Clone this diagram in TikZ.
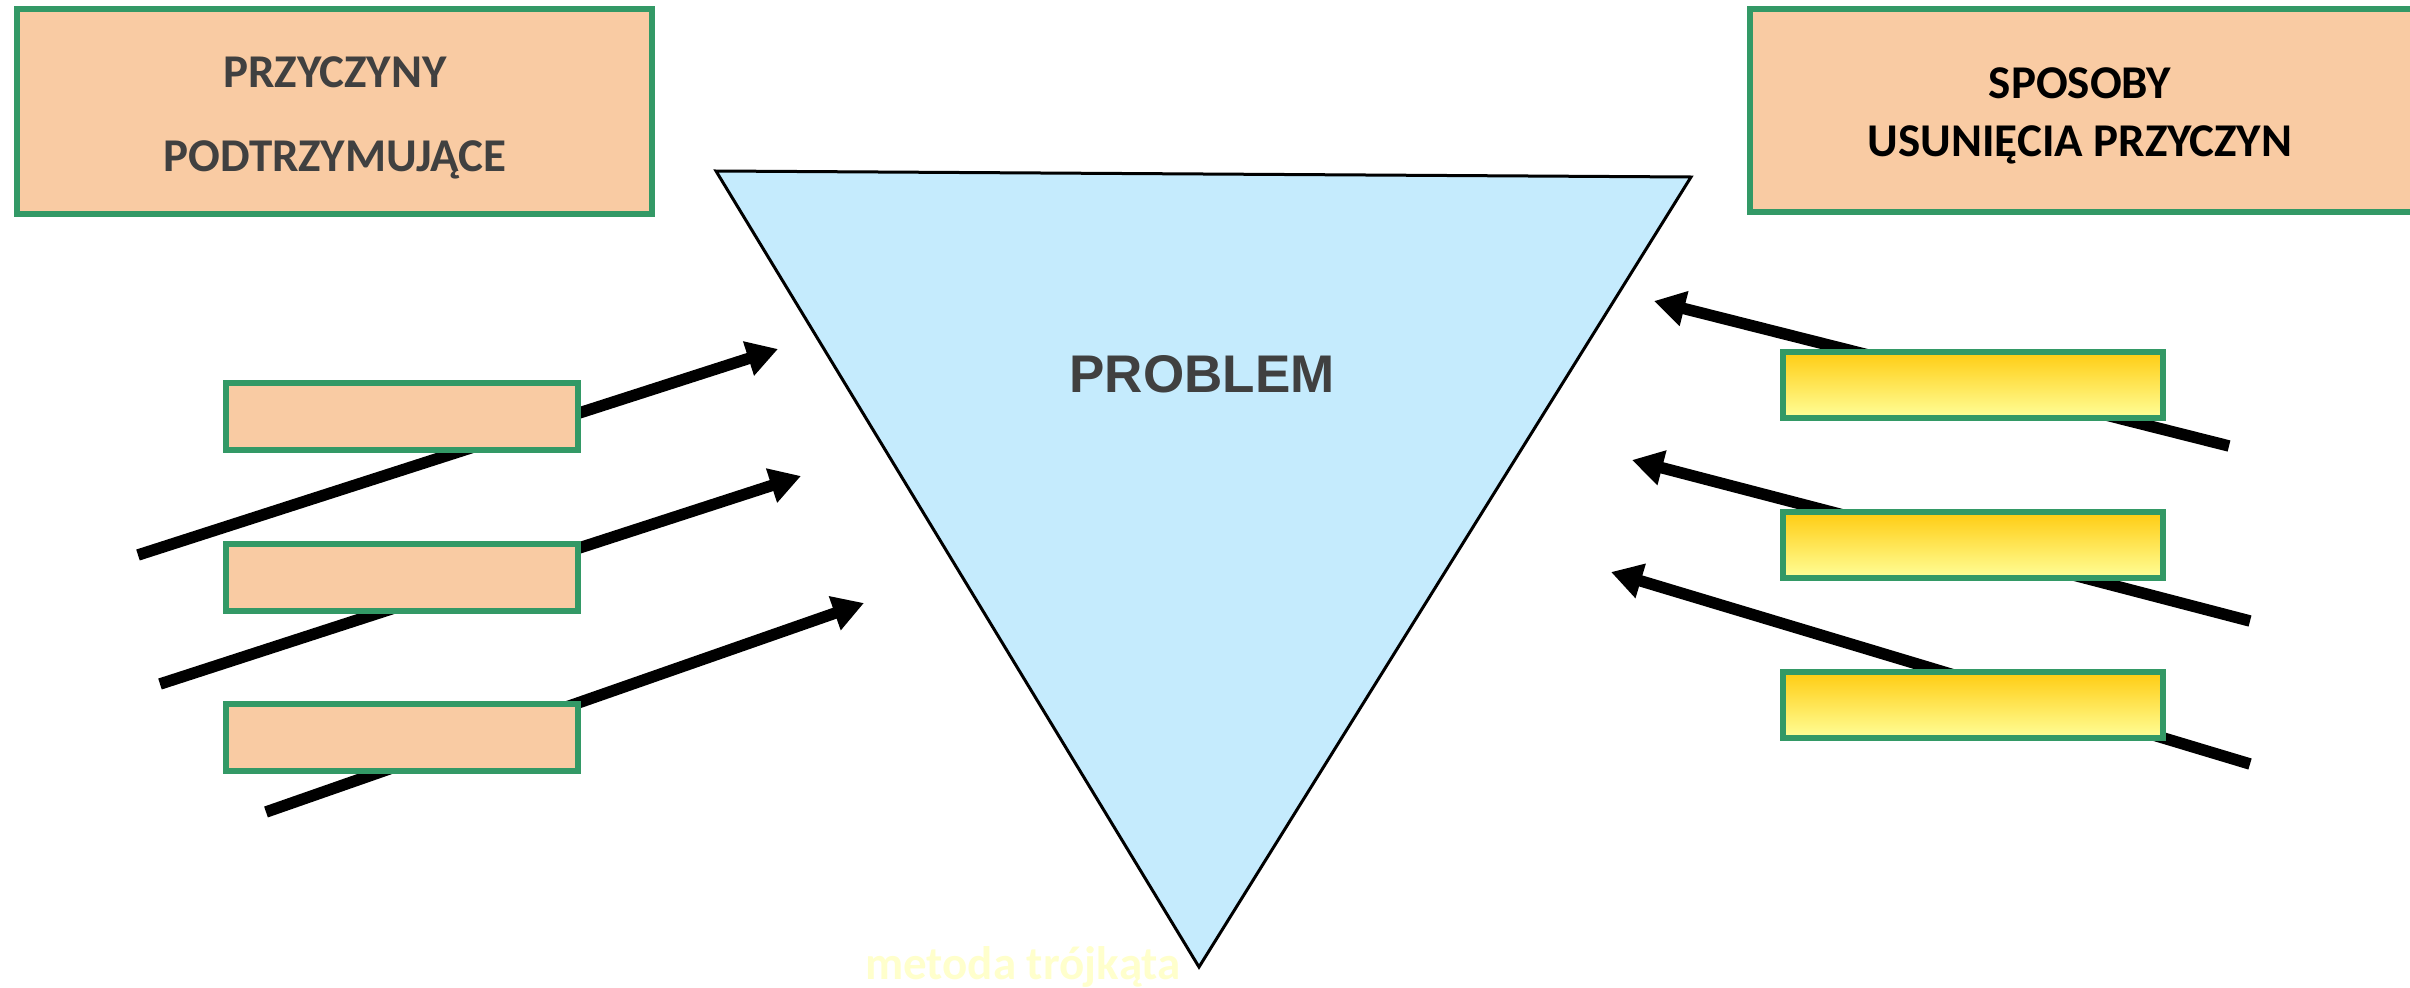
\documentclass[tikz,border=0pt]{standalone}
\usepackage{fontspec}
\setmainfont{Carlito}
\newfontfamily\arialfont{Liberation Sans}
\usetikzlibrary{arrows.meta}
\definecolor{boxgreen}{RGB}{51,153,102}
\definecolor{peach}{RGB}{249,203,163}
\definecolor{skyfill}{RGB}{197,235,253}
\definecolor{darkgray}{RGB}{64,64,64}
\definecolor{goldtop}{RGB}{255,204,17}
\definecolor{goldbot}{RGB}{255,255,153}
\definecolor{paleyellow}{RGB}{255,255,204}
\tikzset{
  peachbox/.style={draw=boxgreen, line width=6pt, fill=peach, rectangle, inner sep=0pt},
  goldbox/.style={draw=boxgreen, line width=6pt, top color=goldtop, bottom color=goldbot, rectangle, inner sep=0pt},
  bigarrow/.style={line width=11.5pt, -{Triangle[length=31pt,width=34pt]}},
  caption/.style={font=\fontsize{47}{56}\selectfont\bfseries, anchor=base, inner sep=0pt},
}
\begin{document}
\begin{tikzpicture}[x=1pt,y=-1pt]
\useasboundingbox (0,0) rectangle (2410,988);
% header boxes
\node[peachbox, minimum width=635pt, minimum height=205pt] (hl) at (334.5,111.5) {};
\node[caption, text=darkgray] (hl1) at (335,87) {PRZYCZYNY};
\node[caption, text=darkgray] (hl2) at (335,171) {PODTRZYMUJĄCE};
\node[peachbox, minimum width=670pt, minimum height=203pt] (hr) at (2085,110.5) {};
\node[caption, text=black] (hr1) at (2080,98) {SPOSOBY};
\node[caption, text=black] (hr2) at (2080,156) {USUNIĘCIA PRZYCZYN};
% triangle
\coordinate (tA) at (716,171);
\coordinate (tB) at (1691,177);
\coordinate (tC) at (1199,967);
\draw[line width=3pt, fill=skyfill, line join=miter] (tA) -- (tB) -- (tC) -- cycle;
\node[font=\arialfont\fontsize{53}{60}\selectfont\bfseries, text=darkgray, anchor=base, inner sep=0pt] (prob) at (1202,392) {PROBLEM};
% left arrows
\coordinate (la1s) at (138,555); \coordinate (la1e) at (778,349);
\coordinate (la2s) at (160,684); \coordinate (la2e) at (801,476);
\coordinate (la3s) at (266,812); \coordinate (la3e) at (864,603);
\draw[bigarrow] (la1s) -- (la1e);
\draw[bigarrow] (la2s) -- (la2e);
\draw[bigarrow] (la3s) -- (la3e);
% right arrows
\coordinate (ra1s) at (2229,446); \coordinate (ra1e) at (1654,301);
\coordinate (ra2s) at (2250,621); \coordinate (ra2e) at (1632,460);
\coordinate (ra3s) at (2250,764); \coordinate (ra3e) at (1611,572);
\draw[bigarrow] (ra1s) -- (ra1e);
\draw[bigarrow] (ra2s) -- (ra2e);
\draw[bigarrow] (ra3s) -- (ra3e);
% left small boxes
\node[peachbox, minimum width=352pt, minimum height=67pt] (l1) at (402,416.5) {};
\node[peachbox, minimum width=352pt, minimum height=67pt] (l2) at (402,577) {};
\node[peachbox, minimum width=352pt, minimum height=67pt] (l3) at (402,737) {};
% right gold boxes
\node[goldbox, minimum width=380pt, minimum height=66pt] (r1) at (1973,384.5) {};
\node[goldbox, minimum width=380pt, minimum height=66pt] (r2) at (1973,545) {};
\node[goldbox, minimum width=380pt, minimum height=66pt] (r3) at (1973,705) {};
% footer
\node[caption, text=paleyellow] (foot) at (1023,979) {metoda trójkąta};
\end{tikzpicture}
\end{document}
